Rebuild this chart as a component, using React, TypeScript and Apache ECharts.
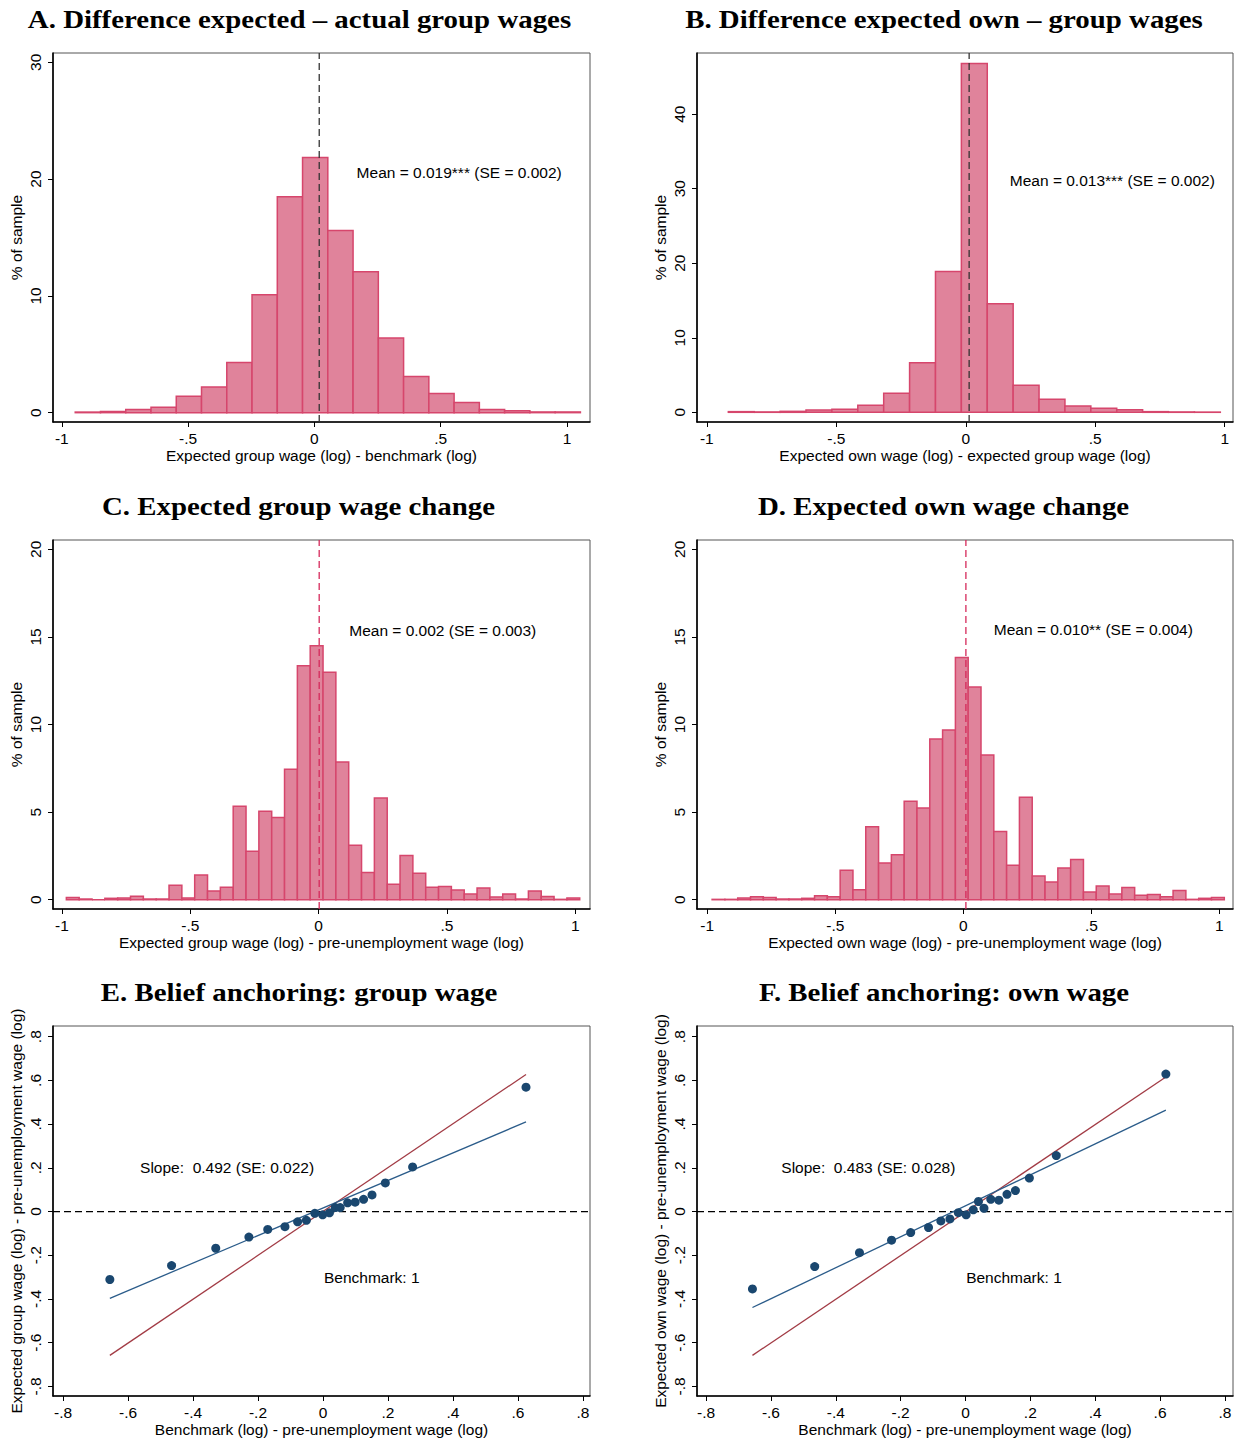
import React, { useEffect, useRef } from 'react';
import * as echarts from 'echarts';

// ---------- Data ----------
// Panel A
const aBinStart = -0.947;
const aBinWidth = 0.1;
const aHeights = [0.05, 0.1, 0.26, 0.46, 1.4, 2.2, 4.3, 10.1, 18.5, 21.85, 15.6, 12.07, 6.4, 3.09, 1.63, 0.86, 0.26, 0.17, 0.06, 0.06];
const aMean = 0.019;
// Panel B
const bBinStart = -0.917;
const bBinWidth = 0.1;
const bHeights = [0.09, 0.05, 0.13, 0.3, 0.4, 0.94, 2.55, 6.66, 18.9, 46.8, 14.57, 3.62, 1.74, 0.85, 0.54, 0.36, 0.09, 0.05, 0.03];
const bMean = 0.013;
// Panel C
const cBinStart = -0.983;
const cBinWidth = 0.05;
const cHeights = [0.13, 0.04, 0, 0.08, 0.1, 0.2, 0.04, 0.04, 0.82, 0.1, 1.41, 0.5, 0.71, 5.34, 2.76, 5.05, 4.69, 7.45, 13.35, 14.49, 12.98, 7.86, 3.11, 1.56, 5.8, 0.88, 2.52, 1.51, 0.71, 0.76, 0.55, 0.32, 0.67, 0.15, 0.32, 0.04, 0.5, 0.19, 0.02, 0.1];
const cMean = 0.002;
// Panel D
const dBinStart = -0.981;
const dBinWidth = 0.05;
const dHeights = [0.02, 0.02, 0.1, 0.17, 0.13, 0.04, 0.04, 0.08, 0.23, 0.17, 1.68, 0.57, 4.16, 2.1, 2.57, 5.62, 5.24, 9.17, 9.69, 13.82, 12.14, 8.26, 3.89, 1.96, 5.85, 1.35, 1.01, 1.81, 2.29, 0.44, 0.78, 0.32, 0.69, 0.25, 0.3, 0.17, 0.53, 0.02, 0.08, 0.13];
const dMean = 0.01;
// Panel E
const eX = [-0.656, -0.466, -0.33, -0.228, -0.17, -0.117, -0.078, -0.051, -0.025, -0.001, 0.02, 0.038, 0.053, 0.076, 0.099, 0.125, 0.151, 0.192, 0.276, 0.625];
const eY = [-0.311, -0.247, -0.168, -0.117, -0.082, -0.069, -0.047, -0.04, -0.008, -0.015, -0.006, 0.018, 0.018, 0.04, 0.043, 0.056, 0.076, 0.131, 0.204, 0.569];
const eFitX = [-0.656, 0.625];
const eFitY = [-0.397, 0.41];
const eRefX = [-0.656, 0.625];
const eRefY = [-0.658, 0.627];
// Panel F
const fX = [-0.657, -0.465, -0.327, -0.228, -0.169, -0.114, -0.076, -0.048, -0.022, 0.002, 0.024, 0.04, 0.057, 0.078, 0.103, 0.128, 0.154, 0.197, 0.28, 0.618];
const fY = [-0.354, -0.252, -0.188, -0.131, -0.096, -0.073, -0.043, -0.034, -0.005, -0.015, 0.008, 0.046, 0.015, 0.056, 0.052, 0.079, 0.096, 0.153, 0.256, 0.629];
const fFitX = [-0.657, 0.618];
const fFitY = [-0.439, 0.464];
const fRefX = [-0.657, 0.618];
const fRefY = [-0.658, 0.616];

// Ticks
const histXTicks = [-1, -0.5, 0, 0.5, 1];
const aYTicks = [0, 10, 20, 30];
const bYTicks = [0, 10, 20, 30, 40];
const cdYTicks = [0, 5, 10, 15, 20];
const efTicks = [-0.8, -0.6, -0.4, -0.2, 0, 0.2, 0.4, 0.6, 0.8];

const titles = [
  'A. Difference expected \u2013 actual group wages',
  'B. Difference expected own \u2013 group wages',
  'C. Expected group wage change',
  'D. Expected own wage change',
  'E. Belief anchoring: group wage',
  'F. Belief anchoring: own wage',
];

const SANS = '"Liberation Sans", Arial, sans-serif';
const SERIF = '"Liberation Serif", "Times New Roman", serif';
const FS = 15.5;

const fmt = (v: number) => {
  const s = String(Math.round(v * 1000) / 1000);
  return s.replace(/^(-?)0\./, '$1.');
};

function makeGrid(left: number, top: number, width: number, height: number) {
  return { left, top, width, height, show: true, borderColor: '#555', borderWidth: 1, containLabel: false };
}

function makeX(i: number, min: number, max: number, ticks: number[], name: string) {
  return {
    type: 'value', gridIndex: i, min, max, position: 'bottom',
    axisLine: { show: true, onZero: false, lineStyle: { color: '#000', width: 1.6 } },
    axisTick: { show: true, length: 5, customValues: ticks, lineStyle: { color: '#000', width: 1 } },
    axisLabel: { show: true, customValues: ticks, formatter: fmt, margin: 8, color: '#000', fontSize: FS, fontFamily: SANS },
    splitLine: { show: false },
    name, nameLocation: 'middle', nameGap: 25,
    nameTextStyle: { color: '#000', fontSize: FS, fontFamily: SANS },
  };
}

function makeY(i: number, min: number, max: number, ticks: number[], name: string) {
  return {
    type: 'value', gridIndex: i, min, max, position: 'left',
    axisLine: { show: true, onZero: false, lineStyle: { color: '#000', width: 1.6 } },
    axisTick: { show: true, length: 5, customValues: ticks, lineStyle: { color: '#000', width: 1 } },
    axisLabel: { show: true, customValues: ticks, formatter: fmt, rotate: 90, margin: 10, color: '#000', fontSize: FS, fontFamily: SANS },
    splitLine: { show: false },
    name, nameLocation: 'middle', nameGap: 29,
    nameTextStyle: { color: '#000', fontSize: FS, fontFamily: SANS },
  };
}

function histSeries(i: number, start: number, width: number, heights: number[]) {
  const data = heights.map((h, k) => [start + k * width, start + (k + 1) * width, h]);
  return {
    type: 'custom', xAxisIndex: i, yAxisIndex: i, data, silent: true, z: 2,
    encode: { x: [0, 1], y: 2 },
    renderItem: (_p: any, api: any) => {
      const p0 = api.coord([api.value(0), api.value(2)]);
      const p1 = api.coord([api.value(1), 0]);
      return {
        type: 'rect',
        shape: { x: p0[0], y: p0[1], width: p1[0] - p0[0], height: p1[1] - p0[1] },
        style: { fill: '#E0839B', stroke: '#D6466C', lineWidth: 1.5 },
      };
    },
  };
}

function lineSeries(i: number, xs: number[], ys: number[], color: string, width: number, dashed: boolean, z = 3) {
  return {
    type: 'line', xAxisIndex: i, yAxisIndex: i, data: xs.map((x, k) => [x, ys[k]]),
    symbol: 'none', silent: true, z, animation: false,
    lineStyle: { color, width, type: dashed ? [7, 4] : 'solid' },
  };
}

function textSeries(i: number, x: number, y: number, text: string) {
  return {
    type: 'custom', xAxisIndex: i, yAxisIndex: i, data: [[x, y]], silent: true, z: 6,
    renderItem: (_p: any, api: any) => {
      const c = api.coord([api.value(0), api.value(1)]);
      return {
        type: 'text', x: c[0], y: c[1],
        style: { text, fill: '#000', fontSize: FS, fontFamily: SANS, align: 'left', verticalAlign: 'middle' },
      };
    },
  };
}

function scatterSeries(i: number, xs: number[], ys: number[]) {
  return {
    type: 'scatter', xAxisIndex: i, yAxisIndex: i, data: xs.map((x, k) => [x, ys[k]]),
    symbol: 'circle', symbolSize: 9, itemStyle: { color: '#1A476F', opacity: 1 }, silent: true, z: 5,
  };
}

export default function App() {
  const ref = useRef<HTMLDivElement>(null);
  useEffect(() => {
    if (!ref.current) return;
    const chart = echarts.init(ref.current, undefined, { renderer: 'svg' });

    const aX: [number, number] = [-1.035, 1.091];
    const aY: [number, number] = [-0.8, 30.8];
    const bX: [number, number] = [-1.038, 1.032];
    const bY: [number, number] = [-1.3, 48.2];
    const cX: [number, number] = [-1.035, 1.057];
    const cdY: [number, number] = [-0.53, 20.53];
    const dX: [number, number] = [-1.04, 1.053];
    const eXr: [number, number] = [-0.831, 0.822];
    const fXr: [number, number] = [-0.828, 0.825];
    const efY: [number, number] = [-0.844, 0.849];

    const option: any = {
      animation: false,
      backgroundColor: '#fff',
      grid: [
        makeGrid(53, 53, 537, 369),
        makeGrid(697, 53, 536, 369),
        makeGrid(53, 540, 537, 369),
        makeGrid(697, 540, 536, 369),
        makeGrid(53, 1026, 537, 370),
        makeGrid(697, 1026, 536, 370),
      ],
      xAxis: [
        makeX(0, aX[0], aX[1], histXTicks, 'Expected group wage (log) - benchmark (log)'),
        makeX(1, bX[0], bX[1], histXTicks, 'Expected own wage (log) - expected group wage (log)'),
        makeX(2, cX[0], cX[1], histXTicks, 'Expected group wage (log) - pre-unemployment wage (log)'),
        makeX(3, dX[0], dX[1], histXTicks, 'Expected own wage (log) - pre-unemployment wage (log)'),
        makeX(4, eXr[0], eXr[1], efTicks, 'Benchmark (log) - pre-unemployment wage (log)'),
        makeX(5, fXr[0], fXr[1], efTicks, 'Benchmark (log) - pre-unemployment wage (log)'),
      ],
      yAxis: [
        makeY(0, aY[0], aY[1], aYTicks, '% of sample'),
        makeY(1, bY[0], bY[1], bYTicks, '% of sample'),
        makeY(2, cdY[0], cdY[1], cdYTicks, '% of sample'),
        makeY(3, cdY[0], cdY[1], cdYTicks, '% of sample'),
        makeY(4, efY[0], efY[1], efTicks, 'Expected group wage (log) - pre-unemployment wage (log)'),
        makeY(5, efY[0], efY[1], efTicks, 'Expected own wage (log) - pre-unemployment wage (log)'),
      ],
      graphic: [
        { x: 299.5, y: 20 },
        { x: 944, y: 20 },
        { x: 298.5, y: 507 },
        { x: 943.5, y: 507 },
        { x: 299, y: 993 },
        { x: 944, y: 993 },
      ].map((p, k) => ({
        type: 'text', x: p.x, y: p.y, scaleX: 1.155, silent: true,
        style: { text: titles[k], fill: '#000', fontSize: 25, fontWeight: 'bold', fontFamily: SERIF, align: 'center', verticalAlign: 'middle' },
      })),
      series: [
        histSeries(0, aBinStart, aBinWidth, aHeights),
        lineSeries(0, [aMean, aMean], [aY[0], aY[1]], '#333', 1.3, true),
        textSeries(0, 0.167, 20.6, 'Mean = 0.019*** (SE = 0.002)'),

        histSeries(1, bBinStart, bBinWidth, bHeights),
        lineSeries(1, [bMean, bMean], [bY[0], bY[1]], '#333', 1.3, true),
        textSeries(1, 0.17, 31.1, 'Mean = 0.013*** (SE = 0.002)'),

        histSeries(2, cBinStart, cBinWidth, cHeights),
        lineSeries(2, [cMean, cMean], [cdY[0], cdY[1]], '#D5285A', 1.3, true),
        textSeries(2, 0.119, 15.37, 'Mean = 0.002 (SE = 0.003)'),

        histSeries(3, dBinStart, dBinWidth, dHeights),
        lineSeries(3, [dMean, dMean], [cdY[0], cdY[1]], '#D5285A', 1.3, true),
        textSeries(3, 0.119, 15.4, 'Mean = 0.010** (SE = 0.004)'),

        lineSeries(4, [eXr[0], eXr[1]], [0, 0], '#000', 1.3, true, 2),
        lineSeries(4, eRefX, eRefY, '#A23B45', 1.3, false),
        lineSeries(4, eFitX, eFitY, '#2B5C8A', 1.3, false),
        scatterSeries(4, eX, eY),
        textSeries(4, -0.563, 0.203, 'Slope:  0.492 (SE: 0.022)'),
        textSeries(4, 0.003, -0.301, 'Benchmark: 1'),

        lineSeries(5, [fXr[0], fXr[1]], [0, 0], '#000', 1.3, true, 2),
        lineSeries(5, fRefX, fRefY, '#A23B45', 1.3, false),
        lineSeries(5, fFitX, fFitY, '#2B5C8A', 1.3, false),
        scatterSeries(5, fX, fY),
        textSeries(5, -0.568, 0.2, 'Slope:  0.483 (SE: 0.028)'),
        textSeries(5, 0.002, -0.3, 'Benchmark: 1'),
      ],
    };
    chart.setOption(option);
    return () => chart.dispose();
  }, []);
  return <div ref={ref} style={{ position: 'absolute', left: 0, top: 0, width: 1239, height: 1441 }} />;
}
